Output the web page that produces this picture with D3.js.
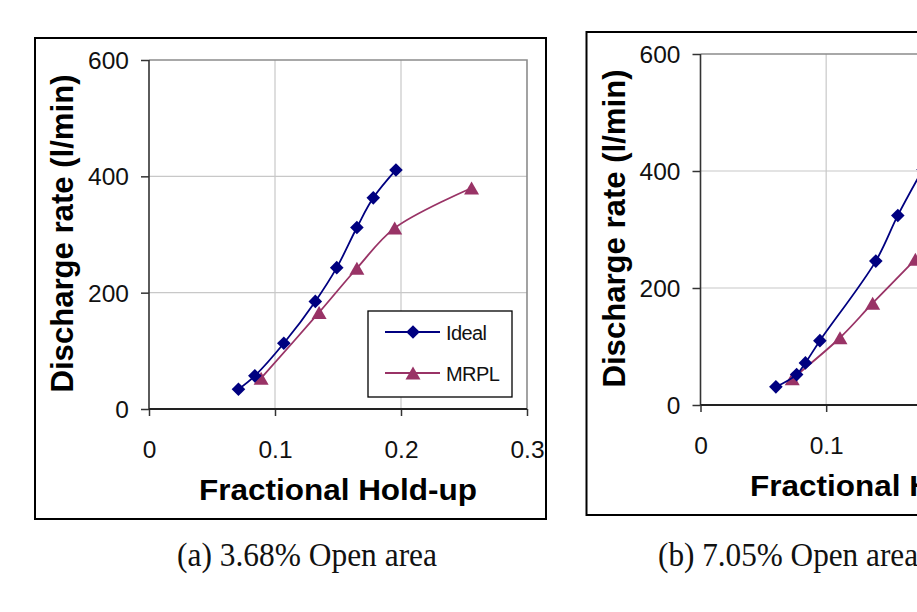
<!DOCTYPE html>
<html>
<head>
<meta charset="utf-8">
<script src="https://cdn.jsdelivr.net/npm/d3@7"></script>
<style>
  html, body { margin: 0; padding: 0; background: #fff; }
  svg { display: block; }
</style>
</head>
<body>
<div id="chart"></div>
<script>
// ---- data ----
const xTicks = [0, 0.1, 0.2, 0.3];
const yTicks = [0, 200, 400, 600];
const seriesNames = ["Ideal", "MRPL"];
const xTitle = "Fractional Hold-up";
const yTitle = "Discharge rate (l/min)";
const captions = ["(a) 3.68% Open area", "(b) 7.05% Open area"];

// chart (a) 3.68% open area
const aIdealX = [0.071, 0.084, 0.107, 0.132, 0.149, 0.165, 0.178, 0.196];
const aIdealY = [34, 57, 113, 185, 243, 312, 363, 411];
const aMrplX  = [0.089, 0.135, 0.165, 0.195, 0.256];
const aMrplY  = [53, 166, 242, 311, 380];

// chart (b) 7.05% open area
const bIdealX = [0.060, 0.0765, 0.0835, 0.095, 0.1395, 0.157, 0.177];
const bIdealY = [31, 52, 72, 110, 246, 324, 403];
const bMrplX  = [0.073, 0.111, 0.137, 0.171];
const bMrplY  = [45, 115, 174, 249];

const colors = { Ideal: "#000080", MRPL: "#993366" };

const W = 917, H = 612;
const svg = d3.select("#chart").append("svg")
  .attr("width", W).attr("height", H)
  .attr("viewBox", `0 0 ${W} ${H}`);
svg.append("rect").attr("width", W).attr("height", H).attr("fill", "#fff");

const FONT = "'Liberation Sans', Arial, Helvetica, sans-serif";

function zip(xs, ys) { return xs.map((x, i) => ({ x, y: ys[i] })); }

function drawChart(cfg) {
  const { left, top, right, bottom } = cfg.plot;
  const x = d3.scaleLinear().domain([0, 0.3]).range([left, right]);
  const y = d3.scaleLinear().domain([0, 600]).range([bottom, top]);
  const g = svg.append("g");

  // outer frame
  g.append("rect")
    .attr("x", left - 114).attr("y", top - 22)
    .attr("width", (right + 19) - (left - 114))
    .attr("height", (bottom + 110) - (top - 22))
    .attr("fill", "#fff").attr("stroke", "#000").attr("stroke-width", 2);

  // gridlines
  g.append("g").selectAll("line.vg").data(xTicks.filter(d => d > 0 && d < 0.3))
    .join("line")
    .attr("x1", d => x(d)).attr("x2", d => x(d))
    .attr("y1", top).attr("y2", bottom)
    .attr("stroke", "#c8c8c8").attr("stroke-width", 1.2);
  g.append("g").selectAll("line.hg").data(yTicks.filter(d => d > 0 && d < 600))
    .join("line")
    .attr("x1", left).attr("x2", right)
    .attr("y1", d => y(d)).attr("y2", d => y(d))
    .attr("stroke", "#c8c8c8").attr("stroke-width", 1.2);

  // plot border top/right (gray)
  g.append("path")
    .attr("d", `M${left},${top}H${right}V${bottom}`)
    .attr("fill", "none").attr("stroke", "#8c8c8c").attr("stroke-width", 1.6);

  // axes
  const yAxis = d3.axisLeft(y).tickValues(yTicks).tickSize(8).tickFormat(d3.format("d"));
  const xAxis = d3.axisBottom(x).tickValues(xTicks).tickSize(7)
    .tickFormat(d => d === 0 ? "0" : d3.format(".1f")(d));

  const ya = g.append("g").attr("transform", `translate(${left},0)`).call(yAxis);
  const xa = g.append("g").attr("transform", `translate(0,${bottom})`).call(xAxis);
  [ya, xa].forEach(a => {
    a.select(".domain").remove();
    a.selectAll(".tick line").attr("stroke", "#333").attr("stroke-width", 1.5);
    a.selectAll(".tick text")
      .attr("font-family", FONT).attr("font-size", 24.5).attr("fill", "#111");
  });
  ya.selectAll(".tick text").attr("x", -20).attr("dy", "0.35em");
  xa.selectAll(".tick text").attr("y", 48.5).attr("dy", 0);

  g.append("line").attr("x1", left).attr("x2", left).attr("y1", top).attr("y2", bottom)
    .attr("stroke", "#333").attr("stroke-width", 1.6);
  g.append("line").attr("x1", left).attr("x2", right).attr("y1", bottom).attr("y2", bottom)
    .attr("stroke", "#222").attr("stroke-width", 1.8);

  // axis titles
  g.append("text")
    .attr("x", (left + right) / 2).attr("y", bottom + 91)
    .attr("text-anchor", "middle")
    .attr("font-family", FONT).attr("font-weight", "bold").attr("font-size", 29)
    .attr("textLength", 278).attr("lengthAdjust", "spacingAndGlyphs")
    .text(xTitle);
  g.append("text")
    .attr("transform", `translate(${left - 76},${(top + bottom) / 2 - 1}) rotate(-90)`)
    .attr("text-anchor", "middle")
    .attr("font-family", FONT).attr("font-weight", "bold").attr("font-size", 31)
    .attr("textLength", 318).attr("lengthAdjust", "spacingAndGlyphs")
    .text(yTitle);

  // series
  const line = d3.line().x(d => x(d.x)).y(d => y(d.y)).curve(d3.curveCatmullRom.alpha(0.5));
  const diamond = "M0,-6.8L6.8,0L0,6.8L-6.8,0Z";
  const triangle = "M0,-6.5L7.5,6.5L-7.5,6.5Z";
  const series = [
    { name: "Ideal", pts: cfg.ideal, shape: diamond },
    { name: "MRPL", pts: cfg.mrpl, shape: triangle }
  ];
  series.slice().reverse().forEach(s => {
    g.append("path").datum(s.pts).attr("d", line)
      .attr("fill", "none").attr("stroke", colors[s.name]).attr("stroke-width", 1.8);
    g.append("g").selectAll("path").data(s.pts).join("path")
      .attr("d", s.shape)
      .attr("transform", d => `translate(${x(d.x)},${y(d.y)})`)
      .attr("fill", colors[s.name]);
  });

  // legend
  const lx = right - 159, ly = bottom - 98;
  const lg = g.append("g");
  lg.append("rect").attr("x", lx).attr("y", ly).attr("width", 144).attr("height", 86)
    .attr("fill", "#fff").attr("stroke", "#000").attr("stroke-width", 1.3);
  series.forEach((s, i) => {
    const cy = ly + 21 + i * 41;
    lg.append("line").attr("x1", lx + 17).attr("x2", lx + 72).attr("y1", cy).attr("y2", cy)
      .attr("stroke", colors[s.name]).attr("stroke-width", 1.8);
    lg.append("path").attr("d", s.shape)
      .attr("transform", `translate(${lx + 45},${cy})`).attr("fill", colors[s.name]);
    lg.append("text").attr("x", lx + 78).attr("y", cy + 7.5)
      .attr("font-family", FONT).attr("font-size", 20).attr("letter-spacing", -0.6)
      .attr("fill", "#111").text(s.name);
  });

  // caption
  svg.append("text")
    .attr("x", cfg.captionX).attr("y", 566)
    .attr("text-anchor", "middle")
    .attr("font-family", "'Liberation Serif', 'Times New Roman', serif")
    .attr("font-size", 33)
    .attr("textLength", 260).attr("lengthAdjust", "spacingAndGlyphs")
    .attr("fill", "#111")
    .text(cfg.caption);
}

drawChart({
  plot: { left: 149, top: 60, right: 527, bottom: 409 },
  ideal: zip(aIdealX, aIdealY), mrpl: zip(aMrplX, aMrplY),
  caption: captions[0], captionX: 307
});
drawChart({
  plot: { left: 700.5, top: 54, right: 1077.5, bottom: 405 },
  ideal: zip(bIdealX, bIdealY), mrpl: zip(bMrplX, bMrplY),
  caption: captions[1], captionX: 788
});
</script>
</body>
</html>
